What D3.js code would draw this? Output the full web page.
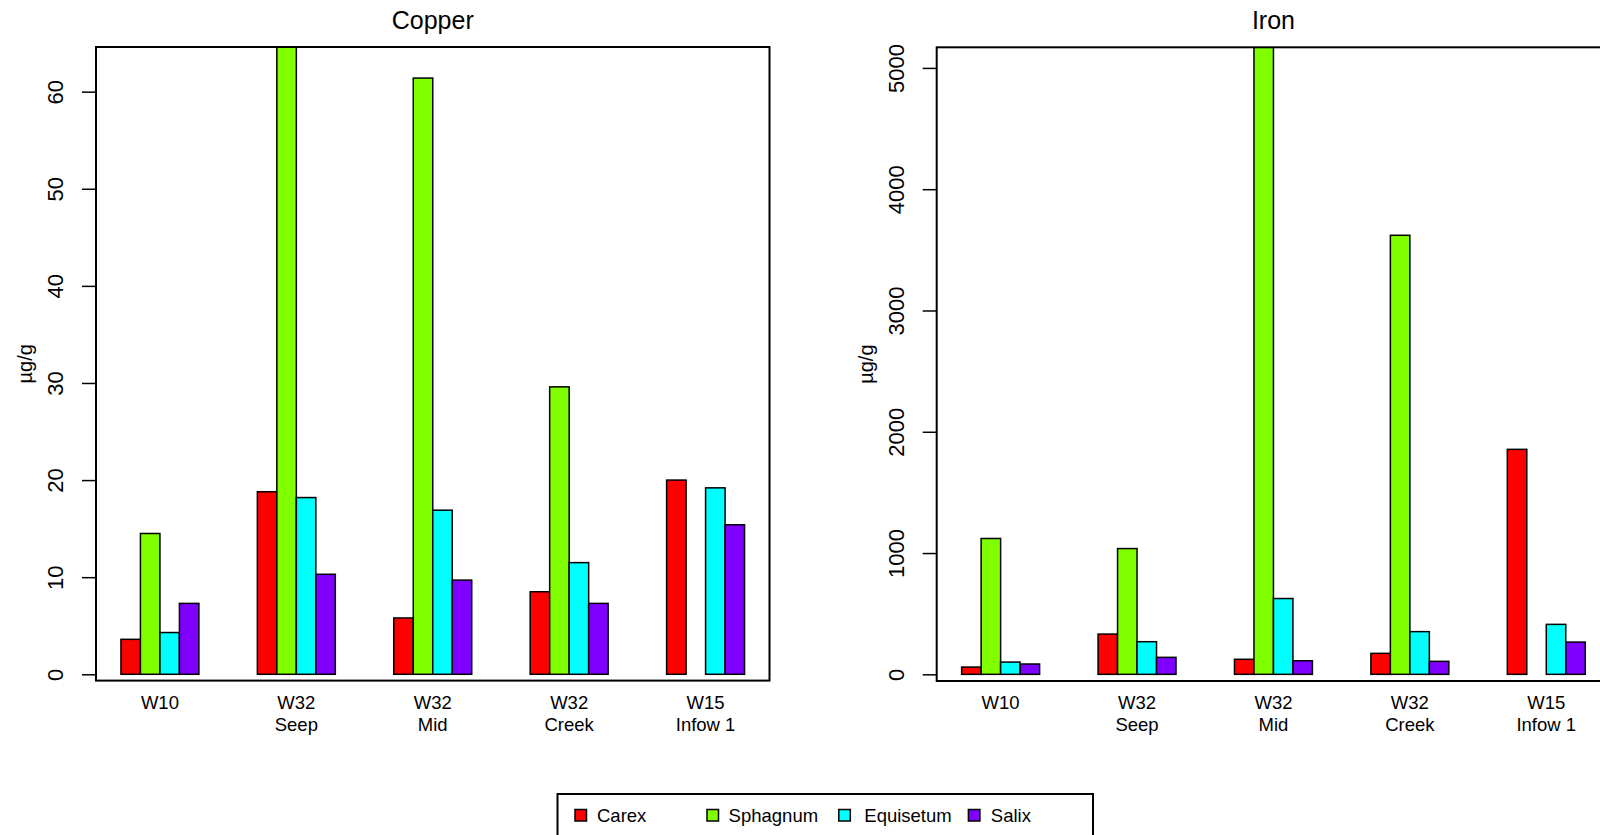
<!DOCTYPE html>
<html>
<head>
<meta charset="utf-8">
<script src="https://cdn.jsdelivr.net/npm/d3@7"></script>
<style>
  html, body { margin: 0; padding: 0; background: #fff; }
  svg { display: block; font-family: "Liberation Sans", Arial, Helvetica, sans-serif; }
</style>
</head>
<body>
<svg id="chart" width="1600" height="835"></svg>
<script>
// Sites (two-line labels) and plant taxa
const sites = [["W10"], ["W32", "Seep"], ["W32", "Mid"], ["W32", "Creek"], ["W15", "Infow 1"]];
const taxa = ["Carex", "Sphagnum", "Equisetum", "Salix"];
const taxaColors = ["#FF0000", "#80FF00", "#00FFFF", "#8000FF"];

// Copper concentration (µg/g), one array per taxon, ordered by site; null = no sample
const copperCarex     = [3.6, 18.8, 5.8, 8.5, 20.0];
const copperSphagnum  = [14.5, 70.0, 61.4, 29.6, null];
const copperEquisetum = [4.3, 18.2, 16.9, 11.5, 19.2];
const copperSalix     = [7.3, 10.3, 9.7, 7.3, 15.4];

// Iron concentration (µg/g)
const ironCarex     = [60, 332, 124, 173, 1855];
const ironSphagnum  = [1120, 1037, 5600, 3620, null];
const ironEquisetum = [101, 269, 625, 352, 412];
const ironSalix     = [85, 140, 112, 107, 266];

// Axis tick values
const copperTicks = [0, 10, 20, 30, 40, 50, 60];
const ironTicks = [0, 1000, 2000, 3000, 4000, 5000];

const svg = d3.select("#chart");

function drawPanel(opts) {
  const { id, title, left, top, width, height, yDomain, ticks, series } = opts;
  const bottom = top + height;
  const nGroups = sites.length, nBars = taxa.length, gap = 3;
  const groupStep = nBars + gap;
  const span = nGroups * nBars + (nGroups - 1) * gap;
  const pad = span * 0.04;

  const x = d3.scaleLinear().domain([-pad, span + pad]).range([left, left + width]);
  const y = d3.scaleLinear().domain(yDomain).range([bottom, top]);

  const g = svg.append("g");

  g.append("clipPath").attr("id", "clip-" + id)
    .append("rect").attr("x", left).attr("y", top).attr("width", width).attr("height", height);

  // bars
  const rows = [];
  series.forEach((vals, s) => {
    vals.forEach((v, i) => {
      if (v == null) return;
      rows.push({ s, i, v });
    });
  });
  g.append("g").attr("clip-path", `url(#clip-${id})`)
    .selectAll("rect").data(rows).join("rect")
    .attr("x", d => x(d.i * groupStep + d.s))
    .attr("width", d => x(d.i * groupStep + d.s + 1) - x(d.i * groupStep + d.s))
    .attr("y", d => y(d.v))
    .attr("height", d => y(0) - y(d.v))
    .attr("fill", d => taxaColors[d.s])
    .attr("stroke", "#000")
    .attr("stroke-width", 1.5);

  // frame
  g.append("rect")
    .attr("x", left).attr("y", top).attr("width", width).attr("height", height)
    .attr("fill", "none").attr("stroke", "#000").attr("stroke-width", 2);

  // y axis
  const yAxis = d3.axisLeft(y).tickValues(ticks).tickSize(14).tickFormat(d3.format("d"));
  const ya = g.append("g").attr("transform", `translate(${left},0)`).call(yAxis);
  ya.select(".domain").remove();
  ya.selectAll(".tick line").attr("stroke", "#000").attr("stroke-width", 1.5);
  ya.selectAll(".tick text")
    .attr("x", null).attr("dy", null)
    .attr("font-size", 22)
    .attr("fill", "#000")
    .attr("text-anchor", "middle")
    .attr("transform", "translate(-33,0) rotate(-90)");
  ya.attr("font-family", null);

  // site labels
  const lab = g.append("g").selectAll("text").data(sites).join("text")
    .attr("x", (d, i) => x(i * groupStep + nBars / 2))
    .attr("y", 709)
    .attr("text-anchor", "middle")
    .attr("font-size", 18.5)
    .attr("fill", "#000");
  lab.selectAll("tspan").data(d => d).join("tspan")
    .attr("x", function () { return d3.select(this.parentNode).attr("x"); })
    .attr("dy", (d, k) => k === 0 ? 0 : 21.7)
    .text(d => d);

  // y axis title
  g.append("text")
    .attr("transform", `translate(${left - 64},${(top + bottom) / 2}) rotate(-90)`)
    .attr("text-anchor", "middle")
    .attr("font-size", 20)
    .attr("fill", "#000")
    .text("µg/g");

  // panel title
  g.append("text")
    .attr("x", left + width / 2)
    .attr("y", 28.5)
    .attr("text-anchor", "middle")
    .attr("font-size", 25)
    .attr("fill", "#000")
    .text(title);
}

drawPanel({
  id: "cu", title: "Copper", left: 96, top: 47, width: 673.5, height: 633.6,
  yDomain: [-0.65, 64.6], ticks: copperTicks,
  series: [copperCarex, copperSphagnum, copperEquisetum, copperSalix]
});

drawPanel({
  id: "fe", title: "Iron", left: 936.7, top: 47.3, width: 673.5, height: 633.7,
  yDomain: [-55, 5170], ticks: ironTicks,
  series: [ironCarex, ironSphagnum, ironEquisetum, ironSalix]
});

// legend
const legend = svg.append("g");
legend.append("rect")
  .attr("x", 557.5).attr("y", 794).attr("width", 535.5).attr("height", 60)
  .attr("fill", "none").attr("stroke", "#000").attr("stroke-width", 2);
const legendKeyX = [575, 707, 838.8, 968.4];
const legendTextX = [597, 728.6, 864.3, 990.8];
const items = legend.selectAll("g.item").data(taxa).join("g").attr("class", "item");
items.append("rect")
  .attr("x", (d, i) => legendKeyX[i]).attr("y", 809.5)
  .attr("width", 11.5).attr("height", 11.5)
  .attr("fill", (d, i) => taxaColors[i])
  .attr("stroke", "#000").attr("stroke-width", 1.5);
items.append("text")
  .attr("x", (d, i) => legendTextX[i]).attr("y", 821.5)
  .attr("font-size", 18.5).attr("fill", "#000")
  .text(d => d);
</script>
</body>
</html>
